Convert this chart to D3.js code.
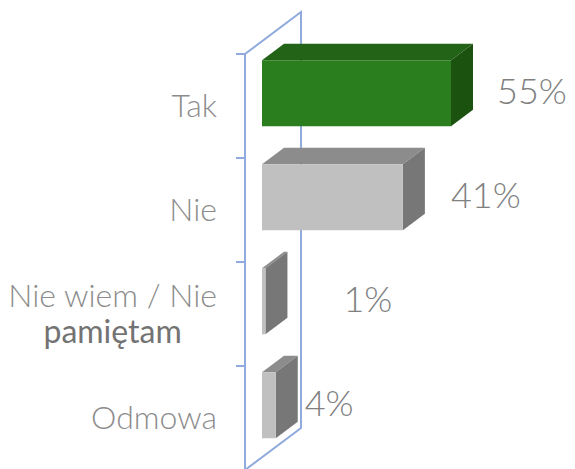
<!DOCTYPE html>
<html>
<head>
<meta charset="utf-8">
<script src="https://cdn.jsdelivr.net/npm/d3@7"></script>
<style>
  body { margin: 0; background: #fff; }
  svg { display: block; font-family: Lato, "Open Sans", sans-serif; }
</style>
</head>
<body>
<svg width="575" height="469"></svg>
<script>
(function () {

  // data
  const categories = ['Tak', 'Nie', 'Nie wiem / Nie pamiętam', 'Odmowa'];
  const labelLines = [['Tak'], ['Nie'], ['Nie wiem / Nie', 'pamiętam'], ['Odmowa']];
  const values = [55, 41, 1, 4];
  const valueLabels = ['55%', '41%', '1%', '4%'];

  // look
  const faceColors = [
    { front: '#2a7e1d', top: '#236317', side: '#1c5210' },
    { front: '#c0c0c0', top: '#8c8c8c', side: '#777777' },
    { front: '#c0c0c0', top: '#8c8c8c', side: '#777777' },
    { front: '#c0c0c0', top: '#8c8c8c', side: '#777777' }
  ];
  const labelGap = [24, 26, 56, 7];

  const svg = d3.select('svg');

  // depth projection: z px into the scene -> (z, -0.75 z)
  const proj = (x, y, z) => [x + z, y - 0.75 * z];
  const wallDepth = 56, barZ0 = 17, barZ1 = 39;

  const y = d3.scaleBand().domain(categories).range([54, 470]);
  const x = d3.scaleLinear().domain([0, 55]).range([245, 434]);
  const barH = y.bandwidth() * 0.635;
  const line = d3.line();

  // wall
  const wall = svg.append('g')
    .attr('fill', 'none')
    .attr('stroke', '#8faadc')
    .attr('stroke-width', 2);
  const top = y.range()[0], bottom = y.range()[1];
  wall.append('path').attr('d', line([[x(0), top], proj(x(0), top, wallDepth), proj(x(0), bottom, wallDepth), [x(0), bottom]]));
  wall.append('path').attr('d', line([[x(0), top], [x(0), bottom]]));
  wall.selectAll('line.tick')
    .data(categories)
    .join('line')
    .attr('class', 'tick')
    .attr('x1', x(0) - 9).attr('x2', x(0))
    .attr('y1', d => y(d)).attr('y2', d => y(d));

  // bars
  svg.append('g')
    .selectAll('g')
    .data(categories)
    .join('g')
    .each(function (c, i) {
      const g = d3.select(this);
      const yc = y(c) + y.bandwidth() / 2;
      const x0 = x(0), x1 = x(values[i]);
      const y0 = yc - barH / 2, y1 = yc + barH / 2;
      const col = faceColors[i];
      const front = [proj(x0, y0, barZ0), proj(x1, y0, barZ0), proj(x1, y1, barZ0), proj(x0, y1, barZ0)];
      const topFace = [proj(x0, y0, barZ0), proj(x0, y0, barZ1), proj(x1, y0, barZ1), proj(x1, y0, barZ0)];
      const side = [proj(x1, y0, barZ0), proj(x1, y0, barZ1), proj(x1, y1, barZ1), proj(x1, y1, barZ0)];
      g.append('path').attr('d', line(topFace) + 'Z').attr('fill', col.top);
      g.append('path').attr('d', line(side) + 'Z').attr('fill', col.side);
      g.append('path').attr('d', line(front) + 'Z').attr('fill', col.front);
    });

  // value labels
  svg.append('g')
    .selectAll('text')
    .data(categories)
    .join('text')
    .attr('x', (c, i) => x(values[i]) + barZ1 + labelGap[i])
    .attr('y', c => y(c) + y.bandwidth() / 2 - 0.75 * barZ0 - 1.5)
    .attr('dy', '0.35em')
    .attr('fill', '#808080')
    .attr('font-size', 36)
    .attr('font-weight', 300)
    .text((c, i) => valueLabels[i]);

  // category labels
  const catG = svg.append('g')
    .attr('font-size', 32)
    .attr('font-weight', 300)
    .attr('fill', '#8c8c8c');
  const labelRight = x(0) - 28;
  categories.forEach((c, i) => {
    const lines = labelLines[i];
    const lh = 36;
    const yc = y(c) + y.bandwidth() / 2;
    const t = catG.append('text');
    lines.forEach((s, k) => {
      t.append('tspan')
        .attr('y', yc + (k - (lines.length - 1) / 2) * lh)
        .attr('dy', '0.35em')
        .attr('fill', k > 0 ? '#737373' : null)
        .attr('font-weight', k > 0 ? 400 : null)
        .text(s);
    });
    if (lines.length === 1) {
      t.attr('text-anchor', 'end').selectAll('tspan').attr('x', labelRight);
    } else {
      const w = d3.max(t.selectAll('tspan').nodes(), n => n.getComputedTextLength());
      t.attr('text-anchor', 'middle').selectAll('tspan').attr('x', labelRight - w / 2);
    }
  });

})();
</script>
</body>
</html>
